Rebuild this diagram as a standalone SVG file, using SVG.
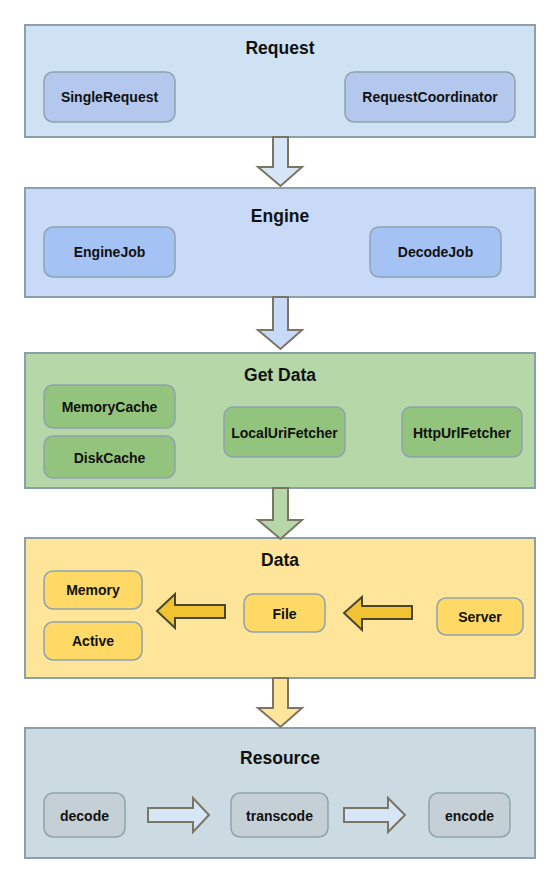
<svg xmlns="http://www.w3.org/2000/svg" width="551" height="876" viewBox="0 0 551 876">
<style>
.box{stroke:#8aa0ab;stroke-width:2}
.node{stroke:#8ea3ad;stroke-width:1.5}
.arr{stroke:#7b7563;stroke-width:2;stroke-linejoin:miter}
.harr{stroke:#4a4530;stroke-width:2}
text{font-family:"Liberation Sans",Arial,sans-serif;font-weight:bold;fill:#111;text-anchor:middle;dominant-baseline:central}
.t{font-size:17.5px}
.n{font-size:14px}
</style>
<rect width="551" height="876" fill="#ffffff"/>
<g id="request">
<rect class="box" x="25" y="25" width="510" height="112" fill="#cfe2f3"/>
<text class="t" x="280" y="48">Request</text>
</g>
<g id="singlerequest"><rect class="node" x="44" y="72" width="131" height="50" rx="9" fill="#b4c8ed"/><text class="n" x="109.5" y="97">SingleRequest</text></g>
<g id="requestcoordinator"><rect class="node" x="345" y="72" width="170" height="50" rx="9" fill="#b4c8ed"/><text class="n" x="430" y="97">RequestCoordinator</text></g>

<g id="engine">
<rect class="box" x="25" y="188" width="510" height="109" fill="#c9daf8"/>
<text class="t" x="280" y="216">Engine</text>
</g>
<g id="enginejob"><rect class="node" x="44" y="227" width="131" height="50" rx="9" fill="#a4c2f4"/><text class="n" x="109.5" y="252">EngineJob</text></g>
<g id="decodejob"><rect class="node" x="370" y="227" width="131" height="50" rx="9" fill="#a4c2f4"/><text class="n" x="435.5" y="252">DecodeJob</text></g>

<g id="getdata">
<rect class="box" x="25" y="353" width="510" height="135" fill="#b6d7a8"/>
<text class="t" x="280" y="375">Get Data</text>
</g>
<g id="memorycache"><rect class="node" x="44" y="385" width="131" height="43" rx="9" fill="#93c47d"/><text class="n" x="109.5" y="407">MemoryCache</text></g>
<g id="diskcache"><rect class="node" x="44" y="436" width="131" height="42" rx="9" fill="#93c47d"/><text class="n" x="109.5" y="458">DiskCache</text></g>
<g id="localurifetcher"><rect class="node" x="224" y="407" width="121" height="50" rx="9" fill="#93c47d"/><text class="n" x="284.5" y="433">LocalUriFetcher</text></g>
<g id="httpurlfetcher"><rect class="node" x="402" y="407" width="120" height="50" rx="9" fill="#93c47d"/><text class="n" x="462" y="433">HttpUrlFetcher</text></g>

<g id="data">
<rect class="box" x="25" y="538" width="510" height="140" fill="#ffe599"/>
<text class="t" x="280" y="560">Data</text>
</g>
<g id="memory"><rect class="node" x="44" y="571" width="98" height="38" rx="9" fill="#ffd966"/><text class="n" x="93" y="590">Memory</text></g>
<g id="active"><rect class="node" x="44" y="622" width="98" height="38" rx="9" fill="#ffd966"/><text class="n" x="93" y="641">Active</text></g>
<g id="file"><rect class="node" x="244" y="594" width="81" height="38" rx="9" fill="#ffd966"/><text class="n" x="284.5" y="614">File</text></g>
<g id="server"><rect class="node" x="437" y="598" width="86" height="37" rx="9" fill="#ffd966"/><text class="n" x="480" y="617">Server</text></g>

<g id="resource">
<rect class="box" x="25" y="728" width="510" height="130" fill="#ccdae1"/>
<text class="t" x="280" y="758">Resource</text>
</g>
<g id="decode"><rect class="node" x="44" y="793" width="81" height="44" rx="9" fill="#c5d0d6"/><text class="n" x="84.5" y="816">decode</text></g>
<g id="transcode"><rect class="node" x="231" y="793" width="97" height="44" rx="9" fill="#c5d0d6"/><text class="n" x="279.5" y="816">transcode</text></g>
<g id="encode"><rect class="node" x="429" y="793" width="81" height="44" rx="9" fill="#c5d0d6"/><text class="n" x="469.5" y="816">encode</text></g>

<g id="connectors">
<polygon class="arr" fill="#d6e6f6" points="273,137 288,137 288,167 302,167 280.5,186 258,167 273,167"/>
<polygon class="arr" fill="#c9daf8" points="273,297 288,297 288,330 302,330 280.5,349 258,330 273,330"/>
<polygon class="arr" fill="#b6d7a8" points="273,488 288,488 288,520 302,520 280.5,539 258,520 273,520"/>
<polygon class="arr" fill="#ffe599" points="273,678 288,678 288,708 302,708 280.5,727 258,708 273,708"/>
<polygon class="harr" fill="#f1c232" points="225,605 225,618 175,618 175,628 157,611 175,594 175,605"/>
<polygon class="harr" fill="#f1c232" points="412,606 412,619 362,619 362,630 344,613 362,597 362,606"/>
<polygon class="arr" fill="#d6e6f6" points="148,808 193,808 193,798 209,815 193,832 193,822 148,822"/>
<polygon class="arr" fill="#d6e6f6" points="344,808 388,808 388,798 405,815 388,832 388,822 344,822"/>
</g>
</svg>
